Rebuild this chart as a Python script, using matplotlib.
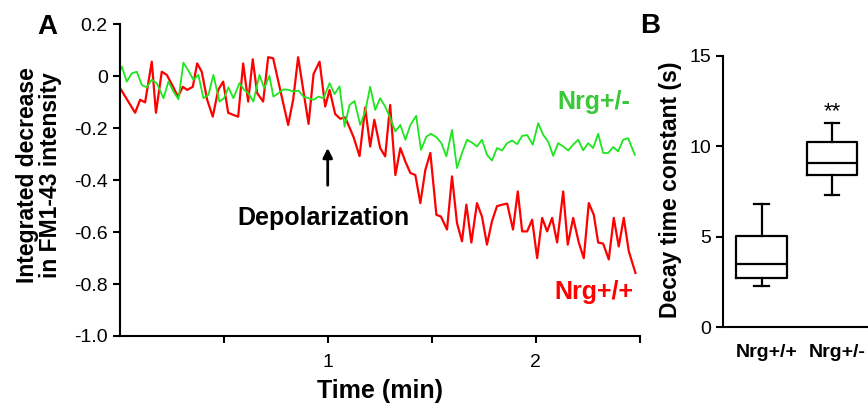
import matplotlib.pyplot as plt
import matplotlib.transforms as mtransforms
from matplotlib.ticker import FixedLocator

plt.rcParams['font.family'] = ['Liberation Sans', 'DejaVu Sans']

# Panel A: FM1-43 destaining traces (time in min, integrated decrease)
t_red = [0.002, 0.075, 0.099, 0.123, 0.155, 0.175, 0.203, 0.227, 0.251, 0.281,
         0.304, 0.325, 0.352, 0.373, 0.395, 0.421, 0.448, 0.474, 0.498, 0.522,
         0.546, 0.570, 0.594, 0.618, 0.640, 0.661, 0.690, 0.714, 0.738, 0.772,
         0.810, 0.834, 0.858, 0.908, 0.932, 0.961, 0.988, 1.009, 1.036, 1.060,
         1.084, 1.124, 1.153, 1.180, 1.204, 1.224, 1.252, 1.276, 1.300, 1.325,
         1.349, 1.373, 1.397, 1.421, 1.445, 1.469, 1.493, 1.522, 1.544, 1.573,
         1.597, 1.621, 1.645, 1.666, 1.690, 1.717, 1.741, 1.765, 1.789, 1.813,
         1.838, 1.862, 1.890, 1.913, 1.934, 1.958, 1.982, 2.006, 2.030, 2.054,
         2.078, 2.102, 2.131, 2.153, 2.179, 2.206, 2.230, 2.254, 2.278, 2.299,
         2.323, 2.350, 2.374, 2.398, 2.422, 2.446, 2.478]
val_red = [-0.044, -0.140, -0.090, -0.100, 0.057, -0.140, 0.018, 0.006, -0.030, -0.078,
           -0.040, -0.052, -0.040, 0.050, 0.018, -0.090, -0.155, -0.052, -0.020, -0.140,
           -0.148, -0.155, 0.050, -0.097, 0.066, -0.064, -0.097, 0.074, 0.070, -0.052,
           -0.187, -0.090, 0.074, -0.183, 0.009, 0.057, -0.116, -0.052, -0.145, -0.163,
           -0.158, -0.233, -0.307, -0.120, -0.270, -0.167, -0.276, -0.308, -0.110, -0.380,
           -0.276, -0.328, -0.372, -0.380, -0.488, -0.360, -0.295, -0.533, -0.540, -0.590,
           -0.385, -0.565, -0.635, -0.494, -0.640, -0.488, -0.540, -0.648, -0.558, -0.500,
           -0.494, -0.490, -0.590, -0.443, -0.597, -0.597, -0.552, -0.700, -0.545, -0.597,
           -0.545, -0.640, -0.443, -0.648, -0.545, -0.640, -0.700, -0.488, -0.533, -0.640,
           -0.644, -0.705, -0.545, -0.655, -0.545, -0.673, -0.757]

t_green = [0.0, 0.011, 0.035, 0.059, 0.083, 0.107, 0.131, 0.155, 0.179, 0.211,
           0.235, 0.259, 0.283, 0.307, 0.331, 0.355, 0.379, 0.403, 0.427, 0.451,
           0.480, 0.502, 0.523, 0.547, 0.576, 0.599, 0.619, 0.643, 0.672, 0.695,
           0.720, 0.739, 0.763, 0.788, 0.812, 0.836, 0.860, 0.884, 0.908, 0.932,
           0.956, 0.980, 1.009, 1.033, 1.057, 1.081, 1.105, 1.129, 1.156, 1.180,
           1.204, 1.228, 1.252, 1.276, 1.300, 1.325, 1.349, 1.373, 1.397, 1.425,
           1.448, 1.474, 1.496, 1.522, 1.546, 1.570, 1.597, 1.621, 1.645, 1.669,
           1.693, 1.717, 1.741, 1.765, 1.789, 1.813, 1.838, 1.862, 1.886, 1.910,
           1.934, 1.958, 1.985, 2.011, 2.035, 2.059, 2.083, 2.107, 2.131, 2.155,
           2.179, 2.203, 2.227, 2.251, 2.275, 2.299, 2.323, 2.347, 2.371, 2.395,
           2.419, 2.443, 2.475]
val_green = [0.018, 0.038, -0.020, 0.012, 0.018, -0.033, -0.042, -0.013, -0.026, -0.084,
             -0.020, -0.058, -0.088, 0.053, 0.022, -0.013, 0.006, -0.084, -0.071, 0.006,
             -0.097, -0.084, -0.042, -0.084, -0.026, -0.052, -0.065, -0.097, 0.006, -0.045,
             0.002, -0.078, -0.065, -0.050, -0.052, -0.058, -0.055, -0.078, -0.084, -0.090,
             -0.078, -0.084, -0.026, -0.068, -0.038, -0.193, -0.110, -0.095, -0.187, -0.135,
             -0.040, -0.129, -0.084, -0.116, -0.160, -0.212, -0.187, -0.244, -0.187, -0.152,
             -0.283, -0.232, -0.221, -0.234, -0.257, -0.308, -0.206, -0.353, -0.295, -0.244,
             -0.255, -0.270, -0.244, -0.302, -0.324, -0.276, -0.285, -0.257, -0.247, -0.261,
             -0.229, -0.226, -0.263, -0.180, -0.225, -0.251, -0.306, -0.257, -0.270, -0.285,
             -0.263, -0.244, -0.285, -0.257, -0.276, -0.221, -0.295, -0.295, -0.272, -0.289,
             -0.244, -0.238, -0.302]

# Panel B: decay time constants (s), box summary per genotype
groups = ['Nrg+/+', 'Nrg+/-']
whisk_lo = [2.25, 7.3]
q1 = [2.7, 8.4]
median = [3.5, 9.1]
q3 = [5.05, 10.25]
whisk_hi = [6.8, 11.3]

RED = '#ff0000'
GREEN = '#1ee61e'
GREEN_TXT = '#38c838'

fig = plt.figure(figsize=(8.68, 4.08), dpi=100)

# ---- panel A
ax = fig.add_axes([119.5 / 868, 72 / 408, 520.5 / 868, 311.5 / 408])
ax.plot(t_red, val_red, color=RED, lw=1.6)
ax.plot(t_green, val_green, color=GREEN, lw=1.3)
ax.set_xlim(0, 2.5)
ax.set_ylim(-1.0, 0.2)
for s in ['top', 'right']:
    ax.spines[s].set_visible(False)
for s in ['left', 'bottom']:
    ax.spines[s].set_linewidth(1.5)
ax.xaxis.set_major_locator(FixedLocator([0.5, 1, 1.5, 2, 2.5]))
ax.set_xticklabels(['', '1', '', '2', ''])
yt = [0.2, 0, -0.2, -0.4, -0.6, -0.8, -1.0]
ax.set_yticks(yt)
ax.set_yticklabels(['0.2', '0', '-0.2', '-0.4', '-0.6', '-0.8', '-1.0'])
ax.tick_params(length=5, width=1.5, labelsize=14, direction='out')
ax.tick_params(axis='x', pad=8)
ax.set_xlabel('Time (min)', fontsize=18, fontweight='bold', labelpad=6)

ax.annotate('', xy=(1.0, -0.265), xytext=(1.0, -0.43),
            arrowprops=dict(arrowstyle='-|>', color='black', lw=2,
                            mutation_scale=14))
ax.text(0.98, -0.545, 'Depolarization', fontsize=18, fontweight='bold',
        ha='center', va='center')
ax.text(2.277, -0.10, 'Nrg+/-', fontsize=18, fontweight='bold',
        color=GREEN_TXT, ha='center', va='center')
ax.text(2.277, -0.83, 'Nrg+/+', fontsize=18, fontweight='bold',
        color=RED, ha='center', va='center')

fig.text(39 / 868, 1 - 175 / 408, 'Integrated decrease\nin FM1-43 intensity',
         rotation=90, ha='center', va='center', fontsize=16.5, fontweight='bold',
         linespacing=1.0, multialignment='center')
fig.text(47 / 868, 1 - 27 / 408, 'A', fontsize=20, fontweight='bold',
         ha='center', va='center')

# ---- panel B
bx = fig.add_axes([723 / 868, 81 / 408, 145 / 868, 271 / 408])
stats = []
for i in range(len(groups)):
    stats.append(dict(label=groups[i], whislo=whisk_lo[i], q1=q1[i],
                      med=median[i], q3=q3[i], whishi=whisk_hi[i], fliers=[]))
lw = 1.6
bx.bxp(stats, positions=[1, 2], widths=0.72, showfliers=False,
       boxprops=dict(color='black', lw=lw),
       whiskerprops=dict(color='black', lw=lw),
       capprops=dict(color='black', lw=lw),
       medianprops=dict(color='black', lw=lw),
       capwidths=0.2)
bx.set_xlim(0.454, 2.51)
bx.set_ylim(0, 15)
bx.set_yticks([0, 5, 10, 15])
for s in ['top', 'right']:
    bx.spines[s].set_visible(False)
for s in ['left', 'bottom']:
    bx.spines[s].set_linewidth(1.5)
bx.tick_params(axis='y', length=5, width=1.5, labelsize=14)
bx.tick_params(axis='x', length=0, labelsize=14, pad=12)
shift = mtransforms.ScaledTranslation(5 / 100, 0, fig.dpi_scale_trans)
for lab in bx.get_xticklabels():
    lab.set_fontweight('bold')
    lab.set_transform(lab.get_transform() + shift)
bx.text(2, 11.9, '**', fontsize=16, ha='center', va='center')
fig.text(670 / 868, 1 - 190 / 408, 'Decay time constant (s)', rotation=90,
         fontsize=16.5, fontweight='bold', ha='center', va='center')
fig.text(650 / 868, 1 - 26 / 408, 'B', fontsize=20, fontweight='bold',
         ha='center', va='center')

fig.savefig('out.png', dpi=100)
